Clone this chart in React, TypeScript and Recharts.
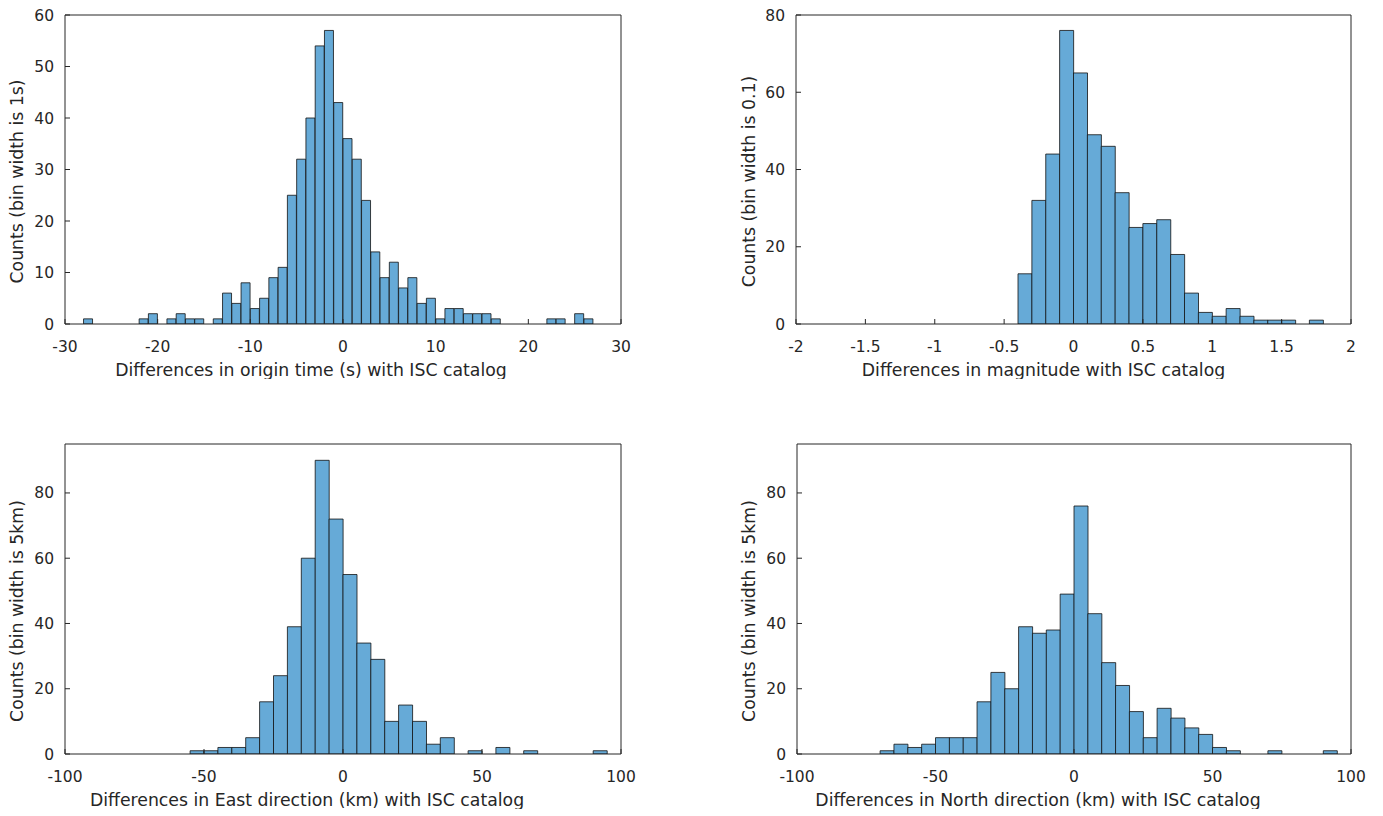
import React from 'react';
import { ComposedChart, Bar, Line, XAxis, YAxis, Label } from 'recharts';

// Panel 1: origin time differences, bin width 1 s, first bin starts at -28
const originStart = -28;
const originBinWidth = 1;
const originCounts = [
  1, 0, 0, 0, 0, 0, 1, 2, 0, 1, 2, 1, 1, 0, 1, 6, 4, 8, 3, 5, 9, 11, 25, 32, 40, 54, 57, 43,
  36, 32, 24, 14, 9, 12, 7, 9, 4, 5, 1, 3, 3, 2, 2, 2, 1, 0, 0, 0, 0, 0, 1, 1, 0, 2, 1,
];
const originTicks = [-30, -20, -10, 0, 10, 20, 30];
const originYTicks = [0, 10, 20, 30, 40, 50, 60];

// Panel 2: magnitude differences, bin width 0.1, first bin starts at -0.4
const magStart = -0.4;
const magBinWidth = 0.1;
const magCounts = [13, 32, 44, 76, 65, 49, 46, 34, 25, 26, 27, 18, 8, 3, 2, 4, 2, 1, 1, 1, 0, 1];
const magTicks = [-2, -1.5, -1, -0.5, 0, 0.5, 1, 1.5, 2];
const magYTicks = [0, 20, 40, 60, 80];

// Panel 3: East differences, bin width 5 km, first bin starts at -55
const eastStart = -55;
const eastBinWidth = 5;
const eastCounts = [
  1, 1, 2, 2, 5, 16, 24, 39, 60, 90, 72, 55, 34, 29, 10, 15, 10, 3, 5, 0, 1, 0, 2, 0, 1, 0, 0, 0, 0, 1,
];

// Panel 4: North differences, bin width 5 km, first bin starts at -70
const northStart = -70;
const northBinWidth = 5;
const northCounts = [
  1, 3, 2, 3, 5, 5, 5, 16, 25, 20, 39, 37, 38, 49, 76, 43, 28, 21, 13, 5, 14, 11, 8, 6, 2, 1, 0, 0, 1,
  0, 0, 0, 1,
];
const kmTicks = [-100, -50, 0, 50, 100];
const kmYTicks = [0, 20, 40, 60, 80];

function buildBins(start: number, width: number, counts: number[]) {
  return counts.map((c, i) => ({ x: +(start + (i + 0.5) * width).toFixed(4), count: c }));
}

const TEXT = '#262626';
const AXIS = '#262626';
const FONT = 'DejaVu Sans';

type PanelProps = {
  left: number;
  top: number;
  plotLeft: number;
  plotRight: number;
  plotTop: number;
  plotBottom: number;
  data: { x: number; count: number }[];
  xDomain: [number, number];
  xTicks: number[];
  yDomain: [number, number];
  yTicks: number[];
  xLabel: string;
  yLabel: string;
  xLabelDx: number;
  yLabelX: number;
  yLabelDy: number;
};

function Panel(p: PanelProps) {
  const xAxisH = 55;
  const rightM = 20;
  const width = p.plotRight + rightM - p.left;
  const height = p.plotBottom + xAxisH - p.top;
  const tickStyle = { fontSize: 15.5, fill: TEXT, fontFamily: FONT };
  const labelStyle = { fontSize: 17.3, fill: TEXT, fontFamily: FONT };
  return (
    <div style={{ position: 'absolute', left: p.left, top: p.top }}>
      <ComposedChart
        width={width}
        height={height}
        data={p.data}
        margin={{ top: p.plotTop - p.top - 1, right: rightM - 1, bottom: 0, left: 0 }}
        barCategoryGap={0}
        barGap={0}
      >
        <XAxis
          xAxisId="b"
          dataKey="x"
          type="number"
          domain={p.xDomain}
          ticks={p.xTicks}
          allowDataOverflow
          interval={0}
          height={xAxisH}
          tickSize={-5}
          tickMargin={22}
          stroke={AXIS}
          tickLine={{ stroke: AXIS }}
          tick={tickStyle}
        >
          <Label
            value={p.xLabel}
            position="insideBottom"
            offset={3}
            dx={p.xLabelDx}
            style={labelStyle}
          />
        </XAxis>
        <XAxis
          xAxisId="t"
          dataKey="x"
          orientation="top"
          type="number"
          domain={p.xDomain}
          ticks={p.xTicks}
          allowDataOverflow
          interval={0}
          height={1}
          tickSize={-5}
          tick={false}
          stroke={AXIS}
          tickLine={{ stroke: AXIS }}
        />
        <YAxis
          yAxisId="l"
          type="number"
          domain={p.yDomain}
          ticks={p.yTicks}
          allowDataOverflow
          interval={0}
          width={p.plotLeft - p.left}
          tickSize={-5}
          tickMargin={16}
          stroke={AXIS}
          tickLine={{ stroke: AXIS }}
          tick={tickStyle}
        >
          <Label
            value={p.yLabel}
            angle={-90}
            position="insideLeft"
            offset={p.yLabelX - p.left}
            dy={p.yLabelDy}
            style={{ ...labelStyle, textAnchor: 'middle' }}
          />
        </YAxis>
        <YAxis
          yAxisId="r"
          orientation="right"
          type="number"
          domain={p.yDomain}
          ticks={p.yTicks}
          allowDataOverflow
          interval={0}
          width={1}
          tickSize={-5}
          tick={false}
          stroke={AXIS}
          tickLine={{ stroke: AXIS }}
        />
        <Bar
          xAxisId="b"
          yAxisId="l"
          dataKey="count"
          fill="#66AAD7"
          stroke="#111111"
          strokeWidth={0.8}
          isAnimationActive={false}
        />
        <Line
          xAxisId="t"
          yAxisId="r"
          dataKey="count"
          stroke="none"
          strokeOpacity={0}
          dot={false}
          activeDot={false}
          legendType="none"
          isAnimationActive={false}
        />
      </ComposedChart>
    </div>
  );
}

export default function App() {
  return (
    <div style={{ position: 'absolute', left: 0, top: 0, width: 1383, height: 816, background: '#fff' }}>
      <Panel
        left={0}
        top={0}
        plotLeft={65}
        plotRight={621}
        plotTop={15}
        plotBottom={324}
        data={buildBins(originStart, originBinWidth, originCounts)}
        xDomain={[-30, 30]}
        xTicks={originTicks}
        yDomain={[0, 60]}
        yTicks={originYTicks}
        xLabel="Differences in origin time (s) with ISC catalog"
        yLabel="Counts (bin width is 1s)"
        xLabelDx={-32}
        yLabelX={17}
        yLabelDy={12}
      />
      <Panel
        left={725}
        top={0}
        plotLeft={796}
        plotRight={1351}
        plotTop={15}
        plotBottom={324}
        data={buildBins(magStart, magBinWidth, magCounts)}
        xDomain={[-2, 2]}
        xTicks={magTicks}
        yDomain={[0, 80]}
        yTicks={magYTicks}
        xLabel="Differences in magnitude with ISC catalog"
        yLabel="Counts (bin width is 0.1)"
        xLabelDx={-30}
        yLabelX={749}
        yLabelDy={12}
      />
      <Panel
        left={0}
        top={420}
        plotLeft={65}
        plotRight={621}
        plotTop={444}
        plotBottom={754}
        data={buildBins(eastStart, eastBinWidth, eastCounts)}
        xDomain={[-100, 100]}
        xTicks={kmTicks}
        yDomain={[0, 95]}
        yTicks={kmYTicks}
        xLabel="Differences in East direction (km) with ISC catalog"
        yLabel="Counts (bin width is 5km)"
        xLabelDx={-36}
        yLabelX={17}
        yLabelDy={12}
      />
      <Panel
        left={725}
        top={420}
        plotLeft={797}
        plotRight={1351}
        plotTop={444}
        plotBottom={754}
        data={buildBins(northStart, northBinWidth, northCounts)}
        xDomain={[-100, 100]}
        xTicks={kmTicks}
        yDomain={[0, 95]}
        yTicks={kmYTicks}
        xLabel="Differences in North direction (km) with ISC catalog"
        yLabel="Counts (bin width is 5km)"
        xLabelDx={-36}
        yLabelX={749}
        yLabelDy={12}
      />
    </div>
  );
}
